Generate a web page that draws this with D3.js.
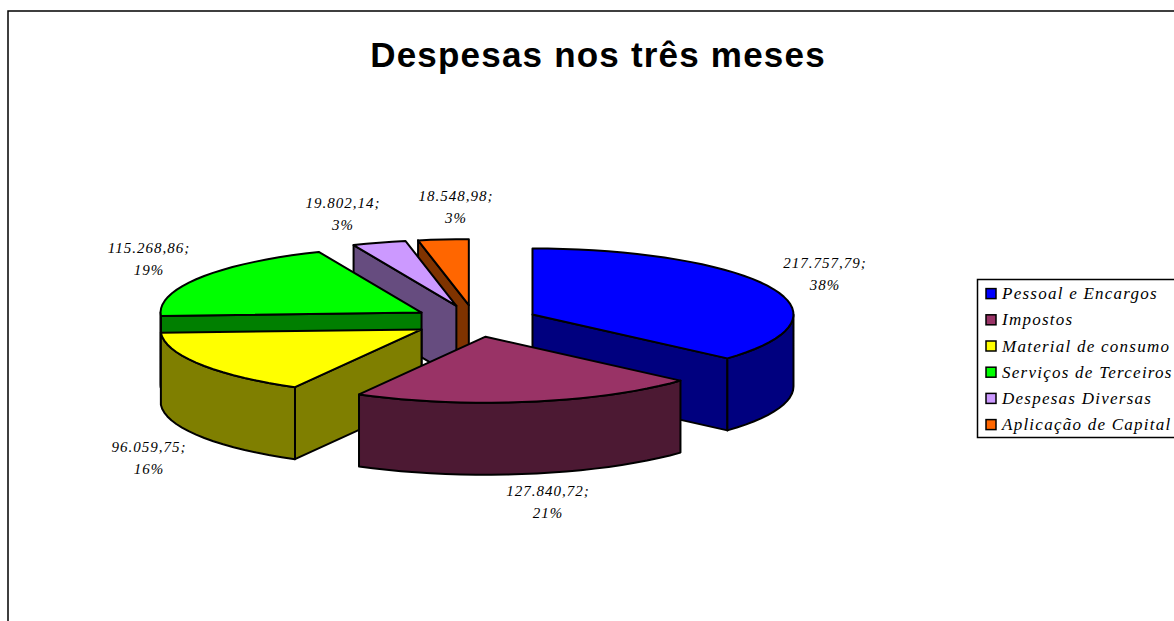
<!DOCTYPE html>
<html>
<head>
<meta charset="utf-8">
<script src="https://cdn.jsdelivr.net/npm/d3@7/dist/d3.min.js"></script>
<style>
	html, body { margin: 0; padding: 0; background: #fff; overflow: hidden; }
	svg { display: block; }
	.script { font-family: "Liberation Serif", serif; font-style: italic; }
</style>
</head>
<body>
<svg id="chart" width="1174" height="621"></svg>
<script>
var categories = ["Pessoal e Encargos", "Impostos", "Material de consumo", "Serviços de Terceiros", "Despesas Diversas", "Aplicação de Capital"];
var values = [217757.79, 127840.72, 96059.75, 115268.86, 19802.14, 18548.98];
var valueLabels = ["217.757,79;", "127.840,72;", "96.059,75;", "115.268,86;", "19.802,14;", "18.548,98;"];
var percentLabels = ["38%", "21%", "16%", "19%", "3%", "3%"];
var topColors = ["#0000ff", "#993366", "#ffff00", "#00ff00", "#cc99ff", "#ff6600"];
var sideColors = ["#00007f", "#4c1933", "#7f7f00", "#007f00", "#664c7f", "#7f3300"];
// back slices first, the front ones paint over them
var drawOrder = [5, 4, 3, 2, 0, 1];

var svg = d3.select("#chart");

// frame goes off the picture on the right and bottom
svg.append("path")
	.attr("d", "M8,630V11H1180")
	.attr("fill", "none")
	.attr("stroke", "#000")
	.attr("stroke-width", 1.5);

svg.append("text")
	.attr("x", 598)
	.attr("y", 67)
	.attr("text-anchor", "middle")
	.attr("font-family", "'Liberation Sans', Arial, sans-serif")
	.attr("font-weight", "bold")
	.attr("font-size", 35)
	.attr("letter-spacing", 1.2)
	.text("Despesas nos três meses");

var cx = 475, cy = 321, rx = 261, ry = 66, depth = 72, explode = 63;

var slices = d3.pie().sort(null)(values);

function proj(s, a, r, dy) {
	var mid = (s.startAngle + s.endAngle) / 2;
	return [
		cx + explode * Math.sin(mid) + rx * r * Math.sin(a),
		cy - explode * (ry / rx) * Math.cos(mid) - ry * r * Math.cos(a) + dy
	];
}

function rim(s, a0, a1, dy) {
	var n = Math.max(2, Math.ceil((a1 - a0) / 0.06));
	return d3.range(n + 1).map(function(i) {
		return proj(s, a0 + (a1 - a0) * i / n, 1, dy);
	});
}

var line = d3.line();
var g = svg.append("g")
	.attr("stroke", "#000")
	.attr("stroke-width", 2)
	.attr("stroke-linejoin", "round");

function cutFace(s, a, color) {
	g.append("path")
		.attr("d", line([proj(s, a, 0, 0), proj(s, a, 1, 0), proj(s, a, 1, depth), proj(s, a, 0, depth)]) + "Z")
		.attr("fill", color);
}

drawOrder.forEach(function(i) {
	var s = slices[i];
	var a0 = s.startAngle, a1 = s.endAngle;

	// a cut side only faces the viewer on one half of the turn
	if (a0 > Math.PI) cutFace(s, a0, sideColors[i]);
	if (a1 < Math.PI) cutFace(s, a1, sideColors[i]);

	// outer wall, front half only
	var w0 = Math.max(a0, Math.PI / 2), w1 = Math.min(a1, Math.PI * 1.5);
	if (w1 > w0) {
		var up = rim(s, w0, w1, 0), down = rim(s, w0, w1, depth).reverse();
		g.append("path")
			.attr("d", line(up.concat(down)) + "Z")
			.attr("fill", sideColors[i]);
	}

	// top face
	g.append("path")
		.attr("d", line([proj(s, a0, 0, 0)].concat(rim(s, a0, a1, 0))) + "Z")
		.attr("fill", topColors[i]);
});

// data labels, placed off the slice they belong to
var labelX = [825, 548, 149, 149, 343, 456];
var labelY = [268, 496, 452, 253, 208, 201];
values.forEach(function(v, i) {
	var t = svg.append("text")
		.attr("class", "script")
		.attr("text-anchor", "middle")
		.attr("font-size", 15)
		.attr("letter-spacing", 1)
		.attr("fill", "#000");
	t.append("tspan").attr("x", labelX[i]).attr("y", labelY[i]).text(valueLabels[i]);
	t.append("tspan").attr("x", labelX[i]).attr("y", labelY[i] + 22).text(percentLabels[i]);
});

// legend
var legendTop = 279, legendStep = 26.2;
svg.append("rect")
	.attr("x", 977.5).attr("y", legendTop + 0.5)
	.attr("width", 210).attr("height", 158)
	.attr("fill", "#fff").attr("stroke", "#000").attr("stroke-width", 1.5);

var yLegend = d3.scaleBand().domain(d3.range(categories.length))
	.range([legendTop + 2, legendTop + 2 + legendStep * categories.length]);

categories.forEach(function(c, i) {
	var y = yLegend(i) + yLegend.bandwidth() / 2;
	svg.append("rect")
		.attr("x", 986).attr("y", y - 5.5)
		.attr("width", 10).attr("height", 10)
		.attr("fill", topColors[i]).attr("stroke", "#000").attr("stroke-width", 1.5);
	svg.append("text")
		.attr("class", "script")
		.attr("x", 1002).attr("y", y + 5)
		.attr("font-size", 17)
		.attr("letter-spacing", 1.25)
		.text(c);
});
</script>
</body>
</html>
